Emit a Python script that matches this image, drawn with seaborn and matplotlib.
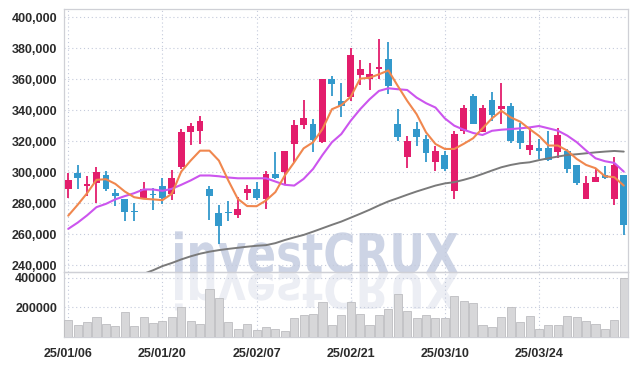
import numpy as np
import matplotlib
matplotlib.use('Agg')
import matplotlib.pyplot as plt
import seaborn as sns
from matplotlib.textpath import TextPath
from matplotlib.patches import PathPatch
from matplotlib.font_manager import FontProperties
from matplotlib.transforms import Affine2D
from matplotlib.ticker import FuncFormatter

# trading days 25/01/06 .. 25/04/04
dates = ['25/01/06', '25/01/07', '25/01/08', '25/01/09', '25/01/10', '25/01/13', '25/01/14', '25/01/15',
         '25/01/16', '25/01/17', '25/01/20', '25/01/21', '25/01/22', '25/01/23', '25/01/24', '25/01/31',
         '25/02/03', '25/02/04', '25/02/05', '25/02/06', '25/02/07', '25/02/10', '25/02/11', '25/02/12',
         '25/02/13', '25/02/14', '25/02/17', '25/02/18', '25/02/19', '25/02/20', '25/02/21', '25/02/24',
         '25/02/25', '25/02/26', '25/02/27', '25/02/28', '25/03/04', '25/03/05', '25/03/06', '25/03/07',
         '25/03/10', '25/03/11', '25/03/12', '25/03/13', '25/03/14', '25/03/17', '25/03/18', '25/03/19',
         '25/03/20', '25/03/21', '25/03/24', '25/03/25', '25/03/26', '25/03/27', '25/03/28', '25/03/31',
         '25/04/01', '25/04/02', '25/04/03', '25/04/04']
tick_labels = ['25/01/06', '25/01/20', '25/02/07', '25/02/21', '25/03/10', '25/03/24']

opens = [288900, 299600, 291000, 293200, 298300, 286700, 282900, 274600, 282900, 286100,
         291000, 285700, 303200, 325700, 326800, 289300, 273900, 273900, 272600, 286300,
         289300, 282500, 298900, 300000, 318200, 330600, 330800, 319300, 360300, 345800,
         348600, 362600, 360300, 366300, 372700, 331000, 309800, 327900, 321500, 306600,
         311000, 288200, 326700, 349000, 326100, 346400, 340600, 342500, 326700, 314500,
         315800, 315600, 313300, 313900, 304700, 282500, 294000, 298100, 282900, 297900]
highs = [299600, 304700, 297400, 303200, 300900, 289300, 282900, 280300, 293600, 289700,
         296600, 301500, 327800, 331700, 336400, 291000, 278900, 281200, 283800, 291900,
         293600, 301100, 313000, 313800, 333800, 346700, 334200, 360200, 362000, 357300,
         380000, 372200, 370100, 386000, 384000, 340800, 323200, 332200, 323900, 317100,
         313900, 326700, 343200, 350700, 343200, 351400, 357500, 344400, 331700, 328300,
         321600, 326700, 328300, 315000, 304700, 297400, 302100, 304300, 309600, 298300]
lows = [283700, 289300, 285000, 280100, 287600, 278200, 268300, 268300, 282900, 275700,
        279700, 282200, 302100, 317600, 318200, 269000, 253500, 268400, 270500, 281800,
        281800, 276500, 295500, 291900, 306400, 327800, 313300, 319000, 349200, 335300,
        345900, 356000, 352800, 359900, 350500, 320300, 302900, 316600, 306600, 301100,
        301100, 282900, 324600, 330800, 326100, 333200, 331400, 318600, 314900, 311100,
        308600, 307500, 309000, 299600, 292000, 282500, 293600, 295700, 279000, 259400]
closes = [295300, 296400, 292500, 300400, 289300, 284400, 274200, 274200, 288900, 285500,
          283300, 296200, 326100, 330000, 333000, 284400, 265100, 273500, 276500, 289300,
          283300, 298900, 296400, 313500, 330400, 334700, 321000, 359900, 357100, 342400,
          375600, 366300, 363100, 367600, 355400, 322900, 320000, 322900, 312600, 313500,
          302100, 324600, 341700, 330800, 341700, 336800, 342500, 320300, 318800, 317500,
          313500, 308100, 324000, 302100, 293200, 293200, 297000, 296600, 304900, 265800]

ma_short = [272000, 279000, 286500, 295100, 295500, 292500, 287600, 283900, 282900, 282500,
            282000, 286100, 300400, 307500, 313900, 313900, 307500, 294700, 282900, 278200,
            278100, 281800, 287200, 297900, 306400, 315400, 319300, 327800, 340600, 343200,
            348600, 360300, 360900, 363100, 365600, 355600, 346000, 337400, 325700, 318200,
            315000, 315000, 318300, 321900, 328300, 334700, 339600, 335300, 332600, 327800,
            323400, 317200, 317200, 313900, 308600, 304700, 302600, 297400, 296800, 291400]
ma_mid = [263500, 267500, 272200, 277500, 279600, 282500, 284600, 286500, 288900, 288900,
          288000, 289300, 291900, 294700, 297900, 297900, 297400, 296600, 296100, 296100,
          296100, 296100, 294000, 291900, 291400, 295700, 302100, 311100, 319300, 324600,
          333200, 340600, 347000, 352400, 354100, 353500, 353000, 348100, 344500, 341700,
          334700, 330000, 327400, 325300, 324000, 326700, 327400, 327800, 328300, 328900,
          329800, 328300, 326800, 323600, 319400, 314000, 309000, 307100, 306000, 300400]
ma_long = [None, None, None, None, None, None, None, None, 234500, 236800,
           239500, 241500, 243800, 245800, 247500, 248800, 249800, 250600, 251300, 252000,
           252600, 253000, 254300, 256300, 258000, 259600, 261700, 263900, 266100, 268200,
           270700, 273200, 275800, 278600, 281200, 283300, 285500, 287600, 289500, 291400,
           292800, 293600, 295100, 296800, 298900, 301100, 303200, 304700, 305800, 306400,
           307800, 309000, 310100, 311100, 311600, 312200, 312800, 313300, 313700, 313300]

volume = [115000, 80000, 99000, 133000, 87000, 74000, 168000, 74000, 133000, 92000,
          108000, 133000, 202000, 108000, 87000, 322000, 264000, 99000, 57000, 85000,
          46000, 69000, 51000, 39000, 126000, 149000, 156000, 237000, 80000, 149000,
          237000, 154000, 80000, 149000, 189000, 292000, 177000, 126000, 149000, 126000,
          126000, 280000, 246000, 230000, 80000, 69000, 133000, 202000, 99000, 143000,
          51000, 80000, 80000, 143000, 133000, 108000, 87000, 51000, 115000, 402000]

RED = '#e31d6c'
BLUE = '#3399cc'
GRID = '#c4cadb'
TEXT = '#2b2b2b'

sns.set_style('white')
plt.rcParams['font.family'] = ['Liberation Sans', 'DejaVu Sans']

W, H = 637, 366
fig = plt.figure(figsize=(W / 100, H / 100), dpi=100)
fig.patch.set_facecolor('white')
ax = fig.add_axes([64 / W, 1 - 272 / H, 564 / W, 263 / H])
axv = fig.add_axes([64 / W, 1 - 337 / H, 564 / W, 65 / H], sharex=ax)

x = np.arange(len(dates))
o = np.array(opens, float)
c = np.array(closes, float)
cols = [RED if cc >= oo else BLUE for oo, cc in zip(o, c)]

# candles
ax.vlines(x, lows, highs, colors=cols, lw=1.3, zorder=3)
body_lo = np.minimum(o, c)
body_h = np.maximum(np.abs(c - o), 700)
ax.bar(x, body_h, bottom=body_lo, width=0.72, color=cols, lw=0, zorder=4)

# moving averages
sns.lineplot(x=x, y=np.array(ma_long, dtype=float), ax=ax, color='#7a7a7a', lw=1.4, zorder=5)
sns.lineplot(x=x, y=ma_mid, ax=ax, color='#cc55ee', lw=1.5, zorder=5)
sns.lineplot(x=x, y=ma_short, ax=ax, color='#f0874e', lw=1.5, zorder=5)

# volume
axv.bar(x, volume, width=0.86, color='#d7d7d9', edgecolor='#bdbdc0', lw=0.6, zorder=3)

for a in (ax, axv):
    a.set_facecolor('none')
    a.set_xlim(-0.45, len(dates) - 0.55)
    a.set_xticks(x[::10])
    a.grid(True, color=GRID, lw=0.8, linestyle=(0, (1, 2.5)))
    a.tick_params(length=0, labelsize=9, labelcolor=TEXT, pad=5)
    for s in a.spines.values():
        s.set_color('#cfd0d6')
        s.set_linewidth(0.9)
    for lab in a.get_xticklabels() + a.get_yticklabels():
        lab.set_fontweight('bold')
    a.set_xlabel('')
    a.set_ylabel('')

ax.set_ylim(235700, 405200)
ax.set_yticks(np.arange(240000, 400001, 20000))
ax.yaxis.set_major_formatter(FuncFormatter(lambda v, p: f'{v:,.0f}'))
ax.tick_params(labelbottom=False)

axv.set_ylim(0, 440000)
axv.set_yticks([200000, 400000])
axv.yaxis.set_major_formatter(FuncFormatter(lambda v, p: f'{v:.0f}'))
axv.set_xticklabels(tick_labels, fontweight='bold')
axv.tick_params(axis='x', pad=8)
for lab in ax.get_yticklabels() + axv.get_yticklabels():
    lab.set_fontweight('bold')

# watermark with reflection
fp = FontProperties(family='DejaVu Sans', weight='bold')
tp = TextPath((0, 0), 'investCRUX', size=100, prop=fp)
bb = tp.get_extents()
sx = 283 / bb.width
sy = 40 / 73.0
base = H - 273
wm = PathPatch(tp, transform=Affine2D().translate(-bb.x0, 0).scale(sx, sy).translate(175, base),
               facecolor='#cdd4e5', edgecolor='none', zorder=-2)
refl = PathPatch(tp, transform=Affine2D().translate(-bb.x0, 0).scale(sx, -sy * 0.9).translate(175, base),
                 facecolor='#eceef4', edgecolor='none', zorder=-2)
fig.add_artist(wm)
fig.add_artist(refl)

fig.savefig('out.png', dpi=100)
